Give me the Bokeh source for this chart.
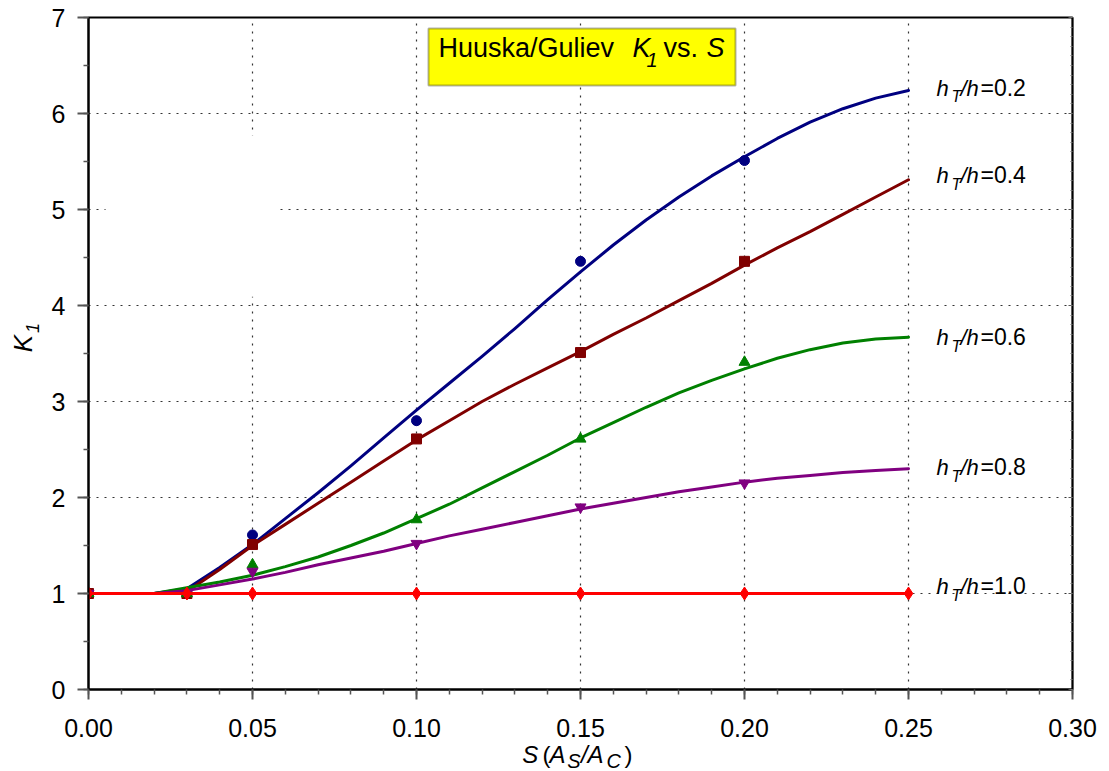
import math
from bokeh.plotting import figure
from bokeh.layouts import column, row
from bokeh.models import (Label, BoxAnnotation, LinearAxis, SingleIntervalTicker, FixedTicker,
                          Range1d, PrintfTickFormatter, CustomJSTickFormatter)
from bokeh.embed import file_html
from bokeh.resources import INLINE

# ---------------- data ----------------
s_fit = [0.00, 0.01, 0.02, 0.03, 0.04, 0.05, 0.06, 0.07, 0.08, 0.09, 0.10, 0.11, 0.12,
         0.13, 0.14, 0.15, 0.16, 0.17, 0.18, 0.19, 0.20, 0.21, 0.22, 0.23, 0.24, 0.25]
k_fit_02 = [1.00, 1.00, 1.00, 1.05, 1.27, 1.51, 1.78, 2.05, 2.33, 2.62, 2.91, 3.19, 3.47,
            3.76, 4.06, 4.35, 4.63, 4.89, 5.13, 5.35, 5.55, 5.74, 5.91, 6.05, 6.16, 6.24]
k_fit_04 = [1.00, 1.00, 1.00, 1.02, 1.25, 1.50, 1.72, 1.94, 2.16, 2.38, 2.60, 2.80, 3.00,
            3.18, 3.35, 3.52, 3.70, 3.87, 4.05, 4.23, 4.42, 4.60, 4.77, 4.95, 5.13, 5.31]
k_fit_06 = [1.00, 1.00, 1.00, 1.06, 1.12, 1.19, 1.28, 1.38, 1.50, 1.63, 1.78, 1.93, 2.10,
            2.27, 2.44, 2.62, 2.78, 2.94, 3.09, 3.22, 3.34, 3.45, 3.54, 3.61, 3.65, 3.67]
k_fit_08 = [1.00, 1.00, 1.00, 1.03, 1.09, 1.15, 1.22, 1.30, 1.37, 1.44, 1.52, 1.60, 1.67,
            1.74, 1.81, 1.88, 1.94, 2.00, 2.06, 2.11, 2.16, 2.20, 2.23, 2.26, 2.28, 2.30]
s_fit_10 = [0.00, 0.25]
k_fit_10 = [1.00, 1.00]

s_pts = [0.00, 0.03, 0.05, 0.10, 0.15, 0.20]
k_pts_02 = [1.00, 1.00, 1.61, 2.80, 4.46, 5.51]
k_pts_04 = [1.00, 1.00, 1.51, 2.61, 3.51, 4.46]
k_pts_06 = [1.00, 1.00, 1.30, 1.77, 2.61, 3.41]
k_pts_08 = [1.00, 1.00, 1.23, 1.52, 1.90, 2.15]
s_pts_10 = [0.00, 0.03, 0.05, 0.10, 0.15, 0.20, 0.25]
k_pts_10 = [1.00, 1.00, 1.00, 1.00, 1.00, 1.00, 1.00]

ratio_labels = ["0.2", "0.4", "0.6", "0.8", "1.0"]
x_ticks = [0.00, 0.05, 0.10, 0.15, 0.20, 0.25, 0.30]
x_minor = [i / 100 for i in range(31)]

# ---------------- styles / positions ----------------
colors = ["#000080", "#800000", "#008000", "#800080", "#FF0000"]
markers = ["circle", "square", "triangle", "inverted_triangle", "diamond"]
msizes = [10, 10, 11, 11, 13]
label_y = [6.19, 5.28, 3.59, 2.24, 1.00]
FONT = "Liberation Sans"
BASE_FIX = 0.33   # em; rendered baseline sits this much lower than the anchor
TOP_H = 741       # height of the main row
BOT_H = 771 - TOP_H


def put(fig, text, x, y, dx, dy, size, italic=False, angle=0.0):
    # dx, dy: wanted baseline offset (screen px, dy positive up)
    fix = BASE_FIX * size
    fig.add_layout(Label(x=x, y=y, x_offset=dx - fix * math.sin(angle),
                         y_offset=dy + fix * math.cos(angle), text=text,
                         text_font=FONT, text_font_size=f"{size}px",
                         text_font_style="italic" if italic else "normal",
                         text_color="black", text_align="left",
                         text_baseline="alphabetic", angle=angle))


def blank_fig(w, h):
    f = figure(width=w, height=h, output_backend="svg", toolbar_location=None,
               title=None, x_range=Range1d(0, w), y_range=Range1d(0, h),
               x_axis_location=None, y_axis_location=None, min_border=0,
               background_fill_color="white", border_fill_color="white")
    f.outline_line_color = None
    f.xgrid.visible = False
    f.ygrid.visible = False
    return f


# ---------------- main plot ----------------
p = figure(width=1065, height=TOP_H, output_backend="svg", toolbar_location=None,
           x_range=Range1d(0, 0.30), y_range=Range1d(0, 7),
           min_border_left=44, min_border_right=37, min_border_top=17,
           min_border_bottom=TOP_H - 17 - 672,
           background_fill_color="white", border_fill_color="white")
p.outline_line_color = "black"
p.outline_line_width = 2

xt = FixedTicker(ticks=x_ticks, minor_ticks=x_minor)
yt = SingleIntervalTicker(interval=1, num_minor_ticks=2)
p.xaxis.ticker = xt
p.yaxis.ticker = yt
p.xgrid.ticker = xt
p.ygrid.ticker = yt
p.xaxis.formatter = PrintfTickFormatter(format="%.2f")

for ax in (p.xaxis[0], p.yaxis[0]):
    ax.axis_line_color = "black"
    ax.axis_line_width = 2
    ax.major_tick_line_color = "#555555"
    ax.major_tick_line_width = 2
    ax.minor_tick_line_color = "#555555"
    ax.minor_tick_line_width = 1.5
    ax.major_tick_in = 0
    ax.minor_tick_in = 0
    ax.major_label_text_font = FONT
    ax.major_label_text_font_size = "25px"
    ax.major_label_text_color = "black"
p.xaxis.major_tick_out = 10
p.xaxis.minor_tick_out = 5
p.xaxis.major_label_standoff = 19
p.yaxis.major_tick_out = 11
p.yaxis.minor_tick_out = 5
p.yaxis.major_label_standoff = 12

ry = LinearAxis(ticker=SingleIntervalTicker(interval=1, num_minor_ticks=10),
                formatter=CustomJSTickFormatter(code="return ''"),
                major_tick_in=4, major_tick_out=0,
                minor_tick_in=2, minor_tick_out=0, axis_line_color="black",
                axis_line_width=1.5, major_tick_line_color="#555555",
                minor_tick_line_color="#777777", major_label_standoff=0)
p.add_layout(ry, "right")

for g in (p.xgrid[0], p.ygrid[0]):
    g.grid_line_color = "#333333"
    g.grid_line_width = 1.2
    g.grid_line_dash = "2 6"

# blank region in the grid (as in the original)
p.add_layout(BoxAnnotation(left=0.0052, right=0.057, bottom=4.09, top=5.77,
                           fill_color="white", fill_alpha=1.0, line_color=None,
                           level="underlay"))

fits = [(s_fit, k_fit_02), (s_fit, k_fit_04), (s_fit, k_fit_06), (s_fit, k_fit_08),
        (s_fit_10, k_fit_10)]
pts = [(s_pts, k_pts_02), (s_pts, k_pts_04), (s_pts, k_pts_06), (s_pts, k_pts_08),
       (s_pts_10, k_pts_10)]

for i in range(5):
    p.line(fits[i][0], fits[i][1], line_color=colors[i], line_width=3,
           line_join="round", line_cap="round")
    p.scatter(pts[i][0], pts[i][1], marker=markers[i], size=msizes[i],
              fill_color=colors[i], line_color=colors[i])

# series labels at right
for i, r in enumerate(ratio_labels):
    put(p, "h", 0.25, label_y[i], 28, 0, 22, True)
    put(p, "T", 0.25, label_y[i], 43, -7, 16, True)
    put(p, "/h", 0.25, label_y[i], 52, 0, 22, True)
    put(p, "=" + r, 0.25, label_y[i], 72, 0, 23, False)

# title box
p.add_layout(BoxAnnotation(left=0.10366, right=0.19726, bottom=6.292, top=6.885,
                           fill_color="#FFFF00", fill_alpha=1.0,
                           line_color="black", line_width=2))
put(p, "Huuska/Guliev", 0.15, 7, -142, -39.7, 27)
put(p, "K", 0.15, 7, 52, -39.7, 27, True)
put(p, "1", 0.15, 7, 66, -49.0, 20, True)
put(p, "vs.", 0.15, 7, 83, -39.7, 27)
put(p, "S", 0.15, 7, 126, -39.7, 27, True)

# ---------------- y-axis title (left strip) ----------------
left = blank_fig(44, TOP_H)
put(left, "K", 31, TOP_H - 369, 0, 0, 26, True, math.pi / 2)
put(left, "1", 38, TOP_H - 348, 0, 0, 18, True, math.pi / 2)

# ---------------- x-axis title (bottom strip) ----------------
bottom = blank_fig(1109, BOT_H)
put(bottom, "S", 521.7, 9, 0, 0, 24, True)
put(bottom, "(", 542, 9, 0, 0, 24)
put(bottom, "A", 549, 9, 0, 0, 24, True)
put(bottom, "S", 566.7, 3.5, 0, 0, 20, True)
put(bottom, "/", 580.5, 9, 0, 0, 24, True)
put(bottom, "A", 587, 9, 0, 0, 24, True)
put(bottom, "C", 606, 3.5, 0, 0, 20, True)
put(bottom, ")", 624, 9, 0, 0, 24)

layout = column(row(left, p), bottom)
open("out.html", "w").write(file_html(layout, INLINE))
